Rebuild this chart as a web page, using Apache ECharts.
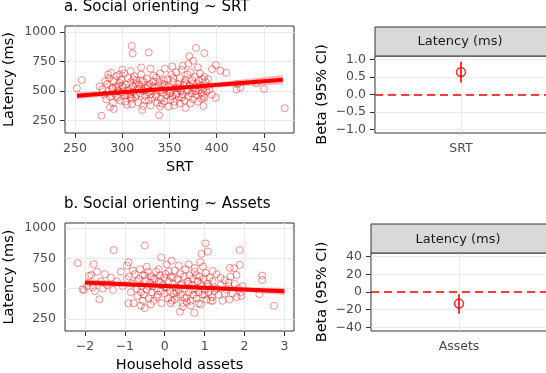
<!DOCTYPE html>
<html>
<head>
<meta charset="utf-8">
<script src="https://cdn.jsdelivr.net/npm/echarts@6/dist/echarts.min.js"></script>
<style>
html,body{margin:0;padding:0;background:#fff}
#main{width:546px;height:373px}
</style>
</head>
<body>
<div id="main"></div>
<script>
// panel a: SRT vs latency
var srtPoints = [
[252,524],[257,593],[278,292],[310,882],[311,818],[328,826],[339,296],[378,865],[371,795],[387,821],
[375,756],[399,720],[395,686],[404,672],[410,655],[421,515],[422,560],[425,529],[442,565],[450,518],
[472,355],[399,444],[386,374],[361,397],[367,358],[321,341],[291,349],[353,708],[364,714],[309,669],
[276,540],[279,515],[281,470],[283,430],[284,560],[285,500],[286,610],[287,455],[288,655],[289,525],
[290,400],[291,585],[292,480],[293,540],[294,625],[295,445],[296,505],[297,570],[298,420],[299,600],
[300,490],[301,530],[302,650],[303,460],[304,555],[305,385],[306,610],[307,510],[308,470],[309,575],
[310,435],[311,540],[312,495],[313,625],[314,450],[315,590],[316,520],[317,405],[318,555],[319,480],
[320,640],[321,510],[322,375],[323,575],[324,460],[325,530],[326,605],[327,490],[328,420],[329,560],
[330,690],[331,505],[332,445],[333,580],[334,530],[335,470],[336,615],[337,400],[338,545],[339,500],
[340,650],[341,435],[342,560],[343,485],[344,590],[345,415],[346,525],[347,465],[348,600],[349,370],
[350,540],[351,490],[352,640],[353,455],[354,575],[355,410],[356,525],[357,660],[358,480],[359,560],
[360,445],[361,610],[362,505],[363,680],[364,470],[365,550],[366,420],[367,595],[368,500],[369,640],
[370,455],[371,545],[372,660],[373,480],[374,590],[375,430],[376,530],[377,620],[378,470],[379,560],
[380,410],[381,505],[382,650],[383,545],[384,480],[385,600],[386,520],[387,445],[388,580],[389,500],
[390,540],[282,585],[287,365],[290,520],[294,460],[297,640],[300,545],[303,410],[306,500],[309,450],
[312,600],[315,470],[318,520],[321,590],[324,420],[327,545],[330,475],[333,630],[336,455],[339,580],
[342,395],[345,555],[348,500],[351,425],[354,610],[357,470],[360,530],[363,445],[366,575],[369,510],
[372,395],[375,560],[378,500],[381,590],[384,435],[387,620],[392,510],[395,470],[380,700],[370,730],
[345,690],[320,700],[300,680],[285,640],[340,370],[355,380],[330,380],[310,390],[296,540],[305,470],
[314,560],[323,500],[332,540],[341,510],[350,480],[359,520],[368,560],[377,500],[386,460],[391,600]
];
var srtFit = [[252,460],[470,595]];
var srtBandX = [252,300,340,380,420,470];
var srtBandLo = [431,473,502,522,538,555];
var srtBandHi = [489,507,527,556,591,635];

// panel b: household assets vs latency
var assetPoints = [
[-2.18,710],[-2.03,489],[-2.06,495],[-1.84,613],[-1.78,702],[-1.64,412],[-1.28,818],[-0.5,856],[-0.91,379],[-0.91,718],
[-0.09,757],[0.17,730],[0.38,310],[0.74,301],[1.02,873],[1.08,806],[0.92,787],[0.89,718],[0.96,682],[1.88,820],
[1.88,696],[1.74,668],[1.8,613],[2.44,608],[2.44,572],[2.37,454],[2.74,359],[1.63,671],[1.2,646],
[-1.95,520],[-1.9,605],[-1.8,510],[-1.75,480],[-1.7,640],[-1.6,560],[-1.55,500],[-1.5,620],[-1.45,530],[-1.35,590],
[-1.3,490],[-1.2,560],[-1.1,640],[-1.05,520],[-0.95,690],[-0.95,580],
[-0.9,600],[-0.85,470],[-0.8,540],[-0.78,380],[-0.75,620],[-0.7,500],[-0.68,440],[-0.65,580],[-0.62,660],[-0.6,360],
[-0.58,520],[-0.55,610],[-0.52,450],[-0.5,340],[-0.48,570],[-0.45,490],[-0.42,640],[-0.4,420],[-0.38,550],[-0.35,600],
[-0.32,470],[-0.3,520],[-0.28,400],[-0.25,580],[-0.22,640],[-0.2,500],[-0.18,450],[-0.15,560],[-0.12,610],[-0.1,480],
[-0.08,380],[-0.05,530],[-0.02,590],[0,460],[0.02,620],[0.05,510],[0.08,420],[0.1,560],[0.12,480],[0.15,600],
[0.18,400],[0.2,540],[0.22,460],[0.25,650],[0.28,510],[0.3,430],[0.32,580],[0.35,490],[0.38,620],[0.4,450],
[0.42,540],[0.45,380],[0.48,600],[0.5,500],[0.52,660],[0.55,430],[0.58,560],[0.6,470],[0.62,610],[0.65,400],
[0.68,530],[0.7,580],[0.72,450],[0.75,640],[0.78,500],[0.8,420],[0.82,560],[0.85,470],[0.88,600],[0.9,370],
[0.92,520],[0.95,450],[0.98,580],[1,490],[1.02,630],[1.05,410],[1.08,540],[1.1,470],[1.12,590],[1.15,500],
[1.18,430],[1.2,560],[1.25,480],[1.3,620],[1.35,450],[1.4,530],[1.45,400],[1.5,570],[1.55,490],[1.6,520],
[1.62,410],[1.65,600],[1.7,460],[1.75,540],[1.8,430],[1.85,500],[1.9,470],[1.92,440],[1.95,520],
[-0.7,560],[-0.6,470],[-0.5,610],[-0.4,520],[-0.3,580],[-0.2,430],[-0.1,550],[0,510],[0.1,640],[0.2,590],
[0.3,470],[0.4,530],[0.5,420],[0.6,540],[0.7,490],[0.8,610],[0.9,540],[1,450],[1.1,520],[1.2,400],
[1.3,500],[1.4,590],[1.5,460],[1.6,550],[0.15,380],[0.45,350],[-0.35,370],[0.65,360],[-0.55,400],[0.25,410],
[0.55,390],[0.85,380],[1.15,400],[-0.8,650],[-0.45,680],[0.05,700],[0.35,690],[0.6,700],[-0.15,660],[0.75,670]
];
var assetFit = [[-2,550],[3,478]];
var assetBandX = [-2,-1,0.5,2,3];
var assetBandLo = [520,515,502,472,448];
var assetBandHi = [580,556,526,512,508];

// beta panels
var betaCatA = ['SRT'];
var betaA = [0.64];
var betaLoA = [0.34];
var betaHiA = [0.935];
var betaCatB = ['Assets'];
var betaB = [-13.1];
var betaLoB = [-24.4];
var betaHiB = [-2.6];

var srtTicks = [250,300,350,400,450];
var assetTicks = [-2,-1,0,1,2,3];
var latTicks = [250,500,750,1000];
var betaTicksA = [-1,-0.5,0,0.5,1];
var betaTicksB = [-40,-20,0,20,40];

var RED = '#ff0000';
var GRIDC = '#ebebeb';
var FONT = 'DejaVu Sans';

function minus(s){ return String(s).replace('-', '\u2212'); }

function gridLines(xi, xs, ys){
	var d = [];
	xs.forEach(function(v){ d.push({xAxis: v}); });
	ys.forEach(function(v){ d.push({yAxis: v}); });
	return {
		type: 'line', xAxisIndex: xi, yAxisIndex: xi, data: [], z: 0, silent: true,
		markLine: {
			z: 1, silent: true, symbol: ['none','none'], label: {show: false}, animation: false,
			lineStyle: {color: GRIDC, type: 'solid', width: 1}, emphasis: {disabled: true},
			data: d
		}
	};
}

function bandSeries(xi, bx, lo, hi){
	return {
		type: 'custom', xAxisIndex: xi, yAxisIndex: xi, z: 3, silent: true, clip: true,
		data: [[bx[0], lo[0]]],
		renderItem: function(params, api){
			var pts = [];
			for (var i = 0; i < bx.length; i++) pts.push(api.coord([bx[i], lo[i]]));
			for (var j = bx.length - 1; j >= 0; j--) pts.push(api.coord([bx[j], hi[j]]));
			return {type: 'polygon', shape: {points: pts}, style: {fill: 'rgba(255,0,0,0.28)'}};
		}
	};
}

function errSeries(xi, cats, lo, hi){
	return {
		type: 'custom', xAxisIndex: xi, yAxisIndex: xi, z: 6, silent: true,
		data: cats.map(function(c, i){ return [c, lo[i], hi[i]]; }),
		encode: {x: 0, y: [1, 2]},
		renderItem: function(params, api){
			var a = api.coord([api.value(0), api.value(1)]);
			var b = api.coord([api.value(0), api.value(2)]);
			return {type: 'line', shape: {x1: a[0], y1: a[1], x2: b[0], y2: b[1]},
				style: {stroke: RED, lineWidth: 1.6}};
		}
	};
}

function valAxis(gi, min, max, ticks, name, gap, fmt){
	return {
		type: 'value', gridIndex: gi, min: min, max: max,
		name: name, nameLocation: 'middle', nameGap: gap,
		nameTextStyle: {color: '#000', fontSize: 14.5, fontFamily: FONT},
		axisLine: {show: false},
		axisTick: {show: true, length: 5, customValues: ticks, lineStyle: {color: '#333'}},
		axisLabel: {customValues: ticks, color: '#4d4d4d', fontSize: 12.5, fontFamily: FONT, margin: 9,
			formatter: fmt || function(v){ return minus(v); }},
		splitLine: {show: false}
	};
}

function catAxis(gi, cats){
	return {
		type: 'category', gridIndex: gi, data: cats, boundaryGap: true,
		axisLine: {show: false}, splitLine: {show: false},
		axisTick: {show: true, alignWithLabel: true, length: 5, lineStyle: {color: '#333'}},
		axisLabel: {color: '#4d4d4d', fontSize: 12.5, fontFamily: FONT, margin: 9}
	};
}

var myChart = echarts.init(document.getElementById('main'));

var option = {
	animation: false,
	backgroundColor: '#fff',
	title: [
		{text: 'a. Social orienting ~ SRT', left: 64, top: 0, padding: 0,
			textStyle: {fontSize: 15, fontWeight: 'normal', color: '#000', fontFamily: FONT}},
		{text: 'b. Social orienting ~ Assets', left: 64, top: 197, padding: 0,
			textStyle: {fontSize: 15, fontWeight: 'normal', color: '#000', fontFamily: FONT}}
	],
	grid: [
		{left: 65, top: 26, width: 229, height: 107, show: true, borderColor: '#333', borderWidth: 1, backgroundColor: '#fff', outerBoundsMode: 'none'},
		{left: 375, top: 56, width: 172, height: 77, show: true, borderColor: '#333', borderWidth: 1, backgroundColor: '#fff', outerBoundsMode: 'none'},
		{left: 65, top: 223, width: 229, height: 108, show: true, borderColor: '#333', borderWidth: 1, backgroundColor: '#fff', outerBoundsMode: 'none'},
		{left: 371, top: 253, width: 176, height: 78, show: true, borderColor: '#333', borderWidth: 1, backgroundColor: '#fff', outerBoundsMode: 'none'}
	],
	xAxis: [
		valAxis(0, 239.4, 481.8, srtTicks, 'SRT', 27),
		catAxis(1, betaCatA),
		valAxis(2, -2.5, 3.24, assetTicks, 'Household assets', 27),
		catAxis(3, betaCatB)
	],
	yAxis: [
		valAxis(0, 146, 1050, latTicks, 'Latency (ms)', 48),
		valAxis(1, -1.1, 1.1, betaTicksA, 'Beta (95% CI)', 45, function(v){ return minus(v.toFixed(1)); }),
		valAxis(2, 151, 1041, latTicks, 'Latency (ms)', 48),
		valAxis(3, -44, 44, betaTicksB, 'Beta (95% CI)', 41)
	],
	graphic: [
		{type: 'rect', shape: {x: 375, y: 27, width: 172, height: 29}, style: {fill: '#d9d9d9', stroke: '#333', lineWidth: 1}, z: 10},
		{type: 'text', x: 460, y: 42, style: {text: 'Latency (ms)', fill: '#1a1a1a', fontSize: 13, fontFamily: FONT, align: 'center', verticalAlign: 'middle'}, z: 11},
		{type: 'rect', shape: {x: 371, y: 224, width: 176, height: 29}, style: {fill: '#d9d9d9', stroke: '#333', lineWidth: 1}, z: 10},
		{type: 'text', x: 458, y: 239.5, style: {text: 'Latency (ms)', fill: '#1a1a1a', fontSize: 13, fontFamily: FONT, align: 'center', verticalAlign: 'middle'}, z: 11}
	],
	series: [
		gridLines(0, srtTicks, latTicks),
		{type: 'scatter', xAxisIndex: 0, yAxisIndex: 0, data: srtPoints, symbol: 'circle', symbolSize: 7, z: 2,
			itemStyle: {color: 'transparent', borderColor: 'rgba(255,0,0,0.55)', borderWidth: 1}},
		bandSeries(0, srtBandX, srtBandLo, srtBandHi),
		{type: 'line', xAxisIndex: 0, yAxisIndex: 0, data: srtFit, symbol: 'none', z: 4,
			lineStyle: {color: RED, width: 4}},

		gridLines(1, betaCatA, betaTicksA),
		{type: 'line', xAxisIndex: 1, yAxisIndex: 1, data: [], z: 2,
			markLine: {z: 2, silent: true, symbol: ['none','none'], label: {show: false},
				lineStyle: {color: RED, type: [8,5], width: 1.5}, data: [{yAxis: 0}]}},
		errSeries(1, betaCatA, betaLoA, betaHiA),
		{type: 'scatter', xAxisIndex: 1, yAxisIndex: 1, data: betaA.map(function(v, i){ return [betaCatA[i], v]; }),
			symbol: 'circle', symbolSize: 9, z: 7,
			itemStyle: {color: 'transparent', borderColor: RED, borderWidth: 1.5}},

		gridLines(2, assetTicks, latTicks),
		{type: 'scatter', xAxisIndex: 2, yAxisIndex: 2, data: assetPoints, symbol: 'circle', symbolSize: 7, z: 2,
			itemStyle: {color: 'transparent', borderColor: 'rgba(255,0,0,0.55)', borderWidth: 1}},
		bandSeries(2, assetBandX, assetBandLo, assetBandHi),
		{type: 'line', xAxisIndex: 2, yAxisIndex: 2, data: assetFit, symbol: 'none', z: 4,
			lineStyle: {color: RED, width: 4}},

		gridLines(3, betaCatB, betaTicksB),
		{type: 'line', xAxisIndex: 3, yAxisIndex: 3, data: [], z: 2,
			markLine: {z: 2, silent: true, symbol: ['none','none'], label: {show: false},
				lineStyle: {color: RED, type: [8,5], width: 1.5}, data: [{yAxis: 0}]}},
		errSeries(3, betaCatB, betaLoB, betaHiB),
		{type: 'scatter', xAxisIndex: 3, yAxisIndex: 3, data: betaB.map(function(v, i){ return [betaCatB[i], v]; }),
			symbol: 'circle', symbolSize: 9, z: 7,
			itemStyle: {color: 'transparent', borderColor: RED, borderWidth: 1.5}}
	]
};

myChart.setOption(option);
</script>
</body>
</html>
